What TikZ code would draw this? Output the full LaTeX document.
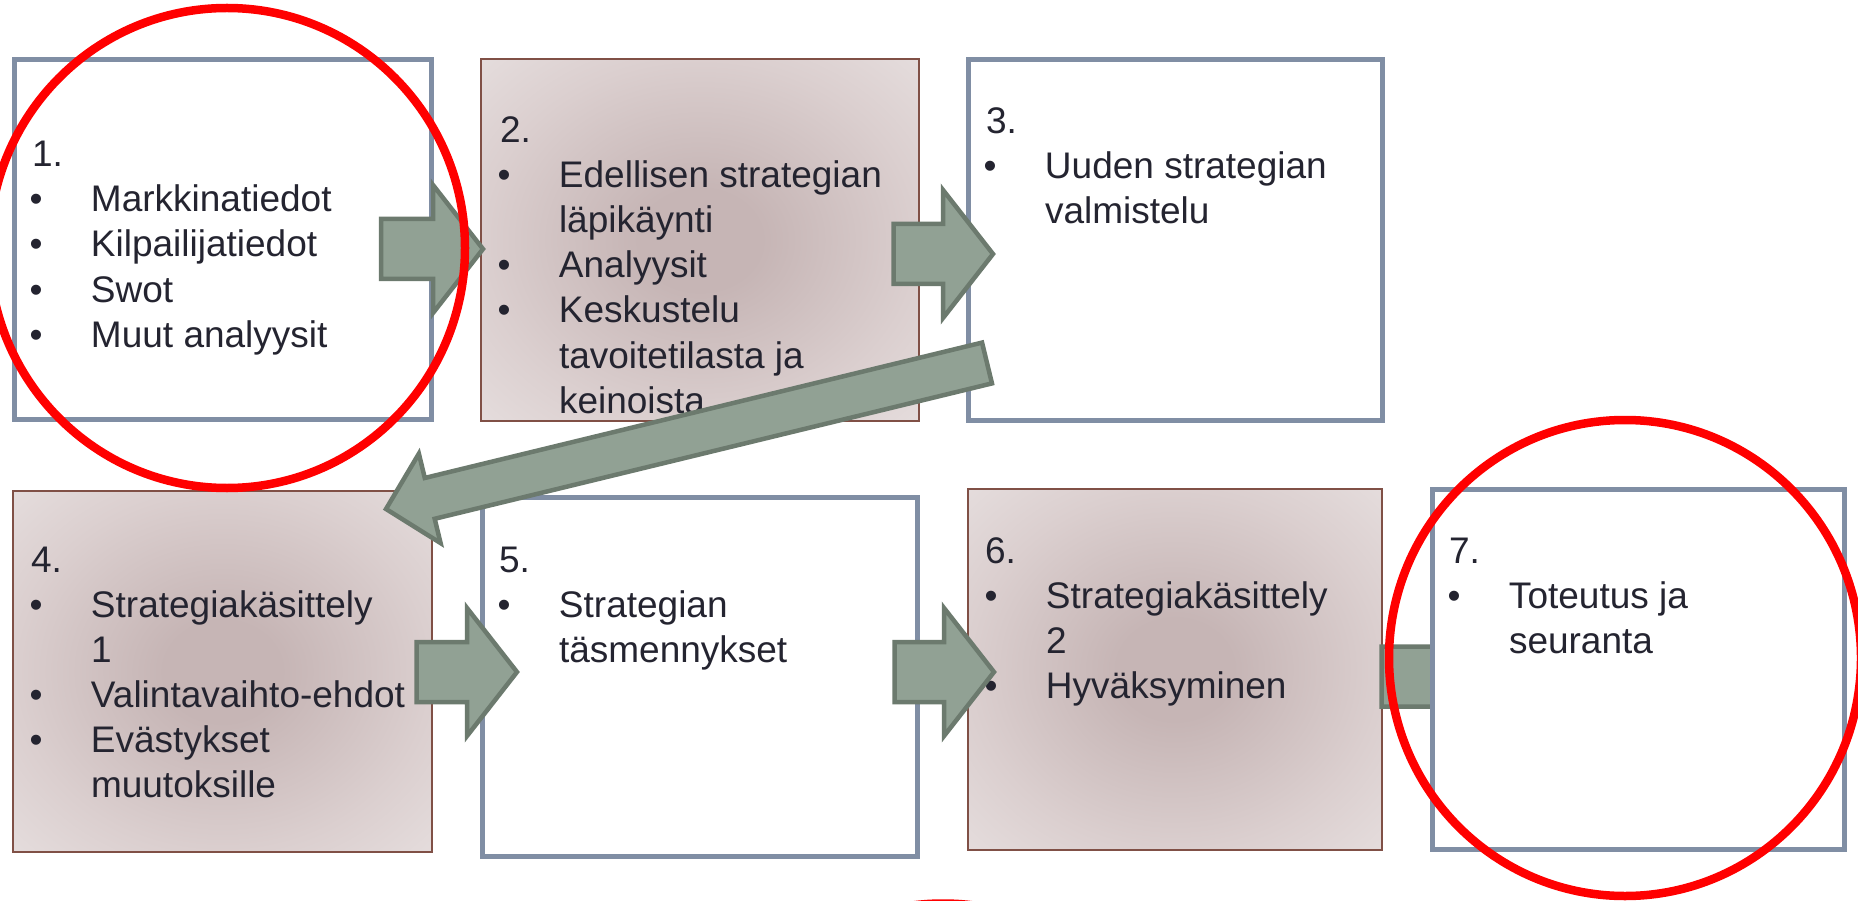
\documentclass[tikz,border=0pt]{standalone}
\usepackage{fontspec}
\setmainfont{Liberation Sans}
\usetikzlibrary{calc}
\definecolor{wboxline}{RGB}{128,142,164}
\definecolor{sboxline}{RGB}{128,80,70}
\definecolor{shadein}{RGB}{198,181,181}
\definecolor{shademid}{RGB}{219,207,207}
\definecolor{shadeout}{RGB}{229,221,221}
\definecolor{arrfill}{RGB}{145,161,148}
\definecolor{arrline}{RGB}{108,122,110}
\definecolor{txt}{RGB}{36,36,48}
\pgfdeclareradialshading{boxshade}{\pgfpointorigin}{color(0bp)=(shadein); color(7bp)=(shadein); color(25bp)=(shademid); color(36bp)=(shadeout); color(50bp)=(shadeout)}
\newcommand{\bul}{\llap{\makebox[0pt][c]{•}\hspace{55pt}}}
\newcommand{\blkarrow}[5]{%
  \coordinate (#1-b) at ($(#2)!#5!(#1)$);
  \draw[blk] ($(#1)!#3!90:(#2)$) -- ($(#1-b)!#3!90:(#2)$) -- ($(#1-b)!#4!90:(#2)$)
    -- (#2) -- ($(#1-b)!#4!-90:(#2)$) -- ($(#1-b)!#3!-90:(#2)$) -- ($(#1)!#3!-90:(#2)$) -- cycle;}
\tikzset{
  wbox/.style={draw=wboxline, line width=5pt, fill=white, rectangle, inner sep=0pt, outer sep=0pt},
  sbox/.style={draw=sboxline, line width=1.6pt, shading=boxshade, rectangle, inner sep=0pt, outer sep=0pt},
  numlbl/.style={anchor=base west, inner sep=0pt, outer sep=0pt, text=txt, font=\fontsize{37}{45}\selectfont},
  itemline/.style={numlbl},
  blk/.style={fill=arrfill, draw=arrline, line width=4.5pt, line join=miter},
  ring/.style={draw=red, line width=8.5pt}
}
\begin{document}
\begin{tikzpicture}[x=1pt,y=-1pt]
\clip (0,0) rectangle (1858,901);
\fill[white] (0,0) rectangle (1858,901);
% boxes
\node[wbox, minimum width=417pt, minimum height=360pt] (b1) at (223,239.5) {};
\node[sbox, minimum width=438pt, minimum height=362pt] (b2) at (700,240) {};
\node[wbox, minimum width=414pt, minimum height=361pt] (b3) at (1175.5,240) {};
\node[sbox, minimum width=419pt, minimum height=361pt] (b4) at (222.5,671.5) {};
\node[wbox, minimum width=435pt, minimum height=359pt] (b5) at (700,677) {};
\node[sbox, minimum width=414pt, minimum height=361pt] (b6) at (1175,669.5) {};
% texts
\node[numlbl] (n1) at (32,167) {1.};
\node[itemline] (l1a) at (91,212) {\bul Markkinatiedot};
\node[itemline] (l1b) at (91,257) {\bul Kilpailijatiedot};
\node[itemline] (l1c) at (91,302) {\bul Swot};
\node[itemline] (l1d) at (91,347) {\bul Muut analyysit};
\node[numlbl] (n2) at (500,143) {2.};
\node[itemline] (l2a) at (559,188) {\bul Edellisen strategian};
\node[itemline] (l2b) at (559,233) {läpikäynti};
\node[itemline] (l2c) at (559,278) {\bul Analyysit};
\node[itemline] (l2d) at (559,323) {\bul Keskustelu};
\node[itemline] (l2e) at (559,368) {tavoitetilasta ja};
\node[itemline] (l2f) at (559,413) {keinoista};
\node[numlbl] (n3) at (986,134) {3.};
\node[itemline] (l3a) at (1045,179) {\bul Uuden strategian};
\node[itemline] (l3b) at (1045,224) {valmistelu};
\node[numlbl] (n4) at (31,572) {4.};
\node[itemline] (l4a) at (91,617) {\bul Strategiakäsittely};
\node[itemline] (l4b) at (91,662) {1};
\node[itemline] (l4c) at (91,707) {\bul Valintavaihto-ehdot};
\node[itemline] (l4d) at (91,752) {\bul Evästykset};
\node[itemline] (l4e) at (91,797) {muutoksille};
\node[numlbl] (n5) at (499,572) {5.};
\node[itemline] (l5a) at (559,617) {\bul Strategian};
\node[itemline] (l5b) at (559,662) {täsmennykset};
\node[numlbl] (n6) at (985,563) {6.};
\node[itemline] (l6a) at (1046,608) {\bul Strategiakäsittely};
\node[itemline] (l6b) at (1046,653) {2};
\node[itemline] (l6c) at (1046,698) {\bul Hyväksyminen};
% arrows
\coordinate (t12) at (381,249);   \coordinate (p12) at (483,249);
\coordinate (t23) at (893.5,254); \coordinate (p23) at (993,254);
\coordinate (t34) at (987,363);   \coordinate (p34) at (386,509);
\coordinate (t45) at (416.5,672); \coordinate (p45) at (517,672);
\coordinate (t56) at (894.5,672); \coordinate (p56) at (994,672);
\coordinate (t67) at (1381.5,676.5); \coordinate (p67) at (1500,676.5);
\blkarrow{t12}{p12}{30pt}{64pt}{50pt}
\blkarrow{t23}{p23}{30pt}{64pt}{50pt}
\blkarrow{t34}{p34}{21pt}{46pt}{45pt}
\blkarrow{t45}{p45}{30pt}{64pt}{50pt}
\blkarrow{t56}{p56}{30pt}{64pt}{50pt}
\blkarrow{t67}{p67}{30pt}{64pt}{50pt}
% box 7
\node[wbox, minimum width=412pt, minimum height=360pt] (b7) at (1638.5,669.5) {};
\node[numlbl] (n7) at (1449,563) {7.};
\node[itemline] (l7a) at (1509,608) {\bul Toteutus ja};
\node[itemline] (l7b) at (1509,653) {seuranta};
% red circles
\draw[ring] (227,248) ellipse [x radius=238pt, y radius=240pt];
\draw[ring] (1625,658) ellipse [x radius=236pt, y radius=238pt];
\draw[ring] (943,1143.5) ellipse [x radius=238pt, y radius=240pt];
\end{tikzpicture}
\end{document}
